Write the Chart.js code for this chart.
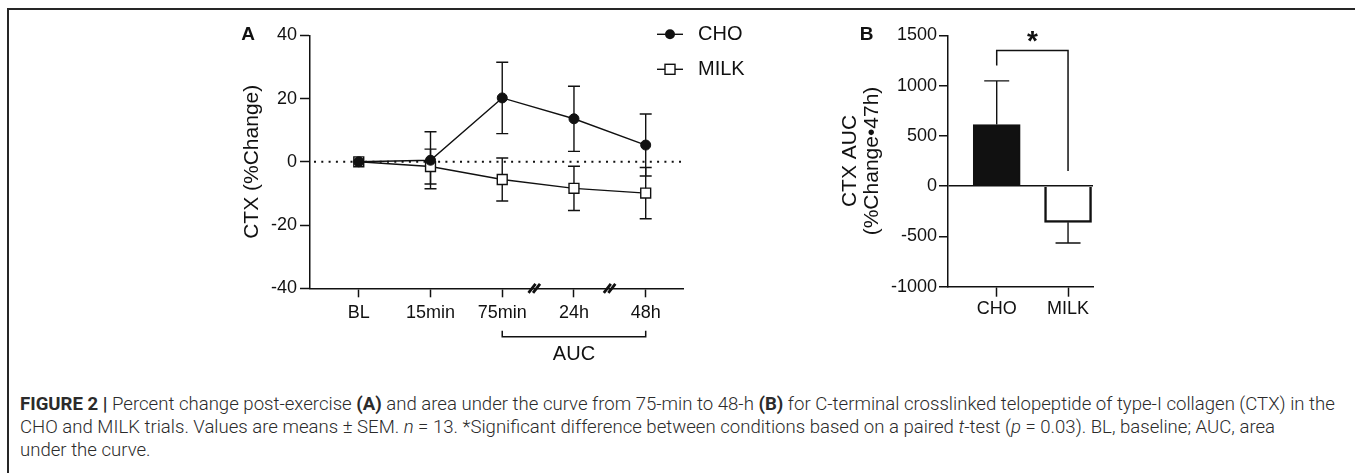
<!DOCTYPE html>
<html>
<head>
<meta charset="utf-8">
<script src="https://cdn.jsdelivr.net/npm/chart.js@4.4.1/dist/chart.umd.min.js"></script>
<style>
  body { margin:0; background:#fff; width:1355px; height:473px; overflow:hidden; position:relative; }
  .frame { position:absolute; left:7px; top:8px; width:1400px; height:500px; border-top:2px solid #262626; border-left:2px solid #262626; }
  #chartA { position:absolute; left:200px; top:10px; }
  #chartB { position:absolute; left:820px; top:10px; }
  .cap { position:absolute; left:20px; top:393px; font-family:Roboto, "Liberation Sans", sans-serif; font-weight:300; color:#2b2b2b; line-height:23px; white-space:nowrap; font-size:16px; }
  .cap b { font-weight:700; }
  .cap div { display:table; }
</style>
</head>
<body>
<div class="frame"></div>
<canvas id="chartA" width="560" height="380"></canvas>
<canvas id="chartB" width="300" height="380"></canvas>
<div class="cap" id="cap">
  <div id="line1"><b>FIGURE 2 |</b> Percent change post-exercise <b>(A)</b> and area under the curve from 75-min to 48-h <b>(B)</b> for C-terminal crosslinked telopeptide of type-I collagen (CTX) in the</div>
  <div>CHO and MILK trials. Values are means ± SEM. <i>n</i> = 13. *Significant difference between conditions based on a paired <i>t</i>-test (<i>p</i> = 0.03). BL, baseline; AUC, area</div>
  <div>under the curve.</div>
</div>
<script>
// panel A - time course
const timepoints = ["BL", "15min", "75min", "24h", "48h"];
const choMean = [0, 0.5, 20.2, 13.6, 5.3];
const choSem = [0, 9.0, 11.3, 10.3, 9.8];
const milkMean = [0, -1.5, -5.6, -8.4, -9.9];
const milkSem = [0, 5.5, 6.8, 7.0, 8.1];
const yTicksA = [-40, -20, 0, 20, 40];

// panel B - AUC
const groups = ["CHO", "MILK"];
const aucMean = [612, -360];
const aucSem = [435, 205];
const yTicksB = [-1000, -500, 0, 500, 1000, 1500];

const ink = "#111";
Chart.defaults.font.family = '"Liberation Sans", Arial, sans-serif';
Chart.defaults.color = ink;

// error bars from the scales, drawn under the markers
const errorBars = {
  id: "errorBars",
  beforeDatasetsDraw(chart) {
    const ctx = chart.ctx;
    const ys = chart.scales.y;
    chart.data.datasets.forEach((ds, di) => {
      if (!ds.sem) return;
      const meta = chart.getDatasetMeta(di);
      ctx.save();
      ctx.strokeStyle = ink;
      ctx.lineWidth = 1.4;
      meta.data.forEach((el, i) => {
        const e = ds.sem[i];
        if (!e) return;
        const v = ds.data[i].y;
        let lo = v - e, hi = v + e;
        if (ds.oneSided) { if (v >= 0) lo = v; else hi = v; }
        const x = el.x, w = ds.capHalf;
        const yHi = ys.getPixelForValue(hi), yLo = ys.getPixelForValue(lo);
        ctx.beginPath();
        ctx.moveTo(x, yHi); ctx.lineTo(x, yLo);
        if (!ds.oneSided || v >= 0) { ctx.moveTo(x - w, yHi); ctx.lineTo(x + w, yHi); }
        if (!ds.oneSided || v < 0) { ctx.moveTo(x - w, yLo); ctx.lineTo(x + w, yLo); }
        ctx.stroke();
      });
      ctx.restore();
    });
  }
};

const extrasA = {
  id: "extrasA",
  beforeDatasetsDraw(chart) {
    const {ctx, chartArea, scales} = chart;
    // dotted zero line
    const y0 = scales.y.getPixelForValue(0);
    ctx.save();
    ctx.strokeStyle = ink;
    ctx.lineWidth = 2;
    ctx.setLineDash([2, 5.3]);
    ctx.beginPath();
    ctx.moveTo(chartArea.left + 4, y0);
    ctx.lineTo(chartArea.right, y0);
    ctx.stroke();
    ctx.restore();
  },
  afterDraw(chart) {
    const {ctx, chartArea, scales} = chart;
    const xs = scales.x;
    ctx.save();
    ctx.strokeStyle = ink;
    ctx.fillStyle = ink;
    // axis breaks
    ctx.lineWidth = 2.8;
    [2.45, 3.5].forEach(v => {
      const bx = xs.getPixelForValue(v), by = chartArea.bottom;
      ctx.beginPath();
      ctx.moveTo(bx - 6, by + 4.5); ctx.lineTo(bx + 1, by - 4.5);
      ctx.moveTo(bx - 1.5, by + 4.5); ctx.lineTo(bx + 5.5, by - 4.5);
      ctx.stroke();
    });
    // AUC bracket
    ctx.lineWidth = 1.5;
    const x1 = xs.getPixelForValue(2), x2 = xs.getPixelForValue(4);
    const yb = chartArea.bottom + 48.5;
    ctx.beginPath();
    ctx.moveTo(x1, yb - 6); ctx.lineTo(x1, yb); ctx.lineTo(x2, yb); ctx.lineTo(x2, yb - 6);
    ctx.stroke();
    ctx.font = '20px "Liberation Sans", Arial, sans-serif';
    ctx.textAlign = "center";
    ctx.textBaseline = "middle";
    ctx.fillText("AUC", (x1 + x2) / 2, yb + 18);
    // panel letter
    ctx.font = 'bold 19px "Liberation Sans", Arial, sans-serif';
    ctx.fillText("A", 48, 25);
    // legend
    const lx1 = chartArea.right - 26, lx2 = chartArea.right, lm = (lx1 + lx2) / 2;
    const rows = [24.3, 59.3];
    ctx.lineWidth = 1.4;
    rows.forEach(ry => {
      ctx.beginPath(); ctx.moveTo(lx1, ry); ctx.lineTo(lx2, ry); ctx.stroke();
    });
    ctx.beginPath(); ctx.arc(lm, rows[0], 5, 0, Math.PI * 2); ctx.fill();
    ctx.fillStyle = "#fff";
    ctx.fillRect(lm - 5, rows[1] - 5, 10, 10);
    ctx.strokeRect(lm - 5, rows[1] - 5, 10, 10);
    ctx.fillStyle = ink;
    ctx.font = '20px "Liberation Sans", Arial, sans-serif';
    ctx.textAlign = "left";
    ctx.fillText("CHO", chartArea.right + 15, rows[0]);
    ctx.fillText("MILK", chartArea.right + 15, rows[1]);
    ctx.restore();
  }
};

const extrasB = {
  id: "extrasB",
  afterDraw(chart) {
    const {ctx, scales} = chart;
    const xa = scales.x.getPixelForValue(0), xb = scales.x.getPixelForValue(1);
    const yTop = scales.y.getPixelForValue(1350);
    ctx.save();
    ctx.strokeStyle = ink;
    ctx.fillStyle = ink;
    ctx.lineWidth = 1.5;
    ctx.beginPath();
    ctx.moveTo(xa, scales.y.getPixelForValue(1200));
    ctx.lineTo(xa, yTop); ctx.lineTo(xb, yTop);
    ctx.lineTo(xb, scales.y.getPixelForValue(150));
    ctx.stroke();
    ctx.font = 'bold 28px "Liberation Sans", Arial, sans-serif';
    ctx.textAlign = "center";
    ctx.textBaseline = "alphabetic";
    ctx.fillText("*", (xa + xb) / 2, yTop - 0.5);
    ctx.font = 'bold 19px "Liberation Sans", Arial, sans-serif';
    ctx.textBaseline = "middle";
    ctx.fillText("B", 46.7, 25);
    ctx.restore();
  }
};

function axisBits(tickLen) {
  return {
    grid: { drawOnChartArea: false, tickLength: tickLen, tickColor: ink, tickWidth: 1.5 },
    border: { color: ink, width: 1.5 }
  };
}

new Chart(document.getElementById("chartA"), {
  type: "line",
  data: {
    datasets: [
      {
        label: "CHO",
        data: choMean.map((v, i) => ({x: i, y: v})),
        sem: choSem, capHalf: 6,
        borderColor: ink, borderWidth: 1.4,
        pointStyle: "circle", pointRadius: 5, pointBackgroundColor: ink, pointBorderColor: ink, pointBorderWidth: 1
      },
      {
        label: "MILK",
        data: milkMean.map((v, i) => ({x: i, y: v})),
        sem: milkSem, capHalf: 6,
        borderColor: ink, borderWidth: 1.4,
        pointStyle: "rect", pointRadius: 7, pointBackgroundColor: "#fff", pointBorderColor: ink, pointBorderWidth: 1.4
      }
    ]
  },
  options: {
    responsive: false, animation: false,
    layout: { padding: { top: 25.3, right: 77, left: 0, bottom: 0 }, autoPadding: false },
    plugins: { legend: { display: false }, tooltip: { enabled: false } },
    scales: {
      x: {
        type: "linear", min: -0.68, max: 4.52,
        afterBuildTicks: s => { s.ticks = timepoints.map((_, i) => ({value: i})); },
        afterFit: s => { s.height = 101.7; },
        ...axisBits(9),
        ticks: { callback: v => timepoints[v], font: { size: 18 }, padding: 5, maxRotation: 0, autoSkip: false }
      },
      y: {
        min: -40, max: 40,
        afterBuildTicks: s => { s.ticks = yTicksA.map(v => ({value: v})); },
        afterFit: s => { s.width = 110; },
        ...axisBits(10),
        ticks: { callback: v => String(v), font: { size: 18 }, padding: 3 },
        title: { display: true, text: "CTX (%Change)", font: { size: 21 }, padding: { top: 39.4 } }
      }
    }
  },
  plugins: [errorBars, extrasA]
});

new Chart(document.getElementById("chartB"), {
  type: "bar",
  data: {
    datasets: [{
      data: aucMean.map((v, i) => ({x: i, y: v})),
      sem: aucSem, capHalf: 12.5, oneSided: true,
      backgroundColor: [ink, "#fff"], borderColor: ink, borderWidth: 2.5,
      barThickness: 47
    }]
  },
  options: {
    responsive: false, animation: false,
    layout: { padding: { top: 25.3, right: 27, left: 0, bottom: 0 }, autoPadding: false },
    plugins: { legend: { display: false }, tooltip: { enabled: false } },
    scales: {
      x: {
        type: "linear", min: -0.683, max: 1.35, offset: false,
        afterBuildTicks: s => { s.ticks = groups.map((_, i) => ({value: i})); },
        afterFit: s => { s.height = 103.3; },
        grid: { offset: false, drawOnChartArea: false, tickLength: 10, tickColor: ink, tickWidth: 1.5 },
        border: { color: ink, width: 1.5 },
        ticks: { callback: v => groups[v], font: { size: 18 }, padding: 2, maxRotation: 0, autoSkip: false }
      },
      y: {
        min: -1000, max: 1500,
        afterBuildTicks: s => { s.ticks = yTicksB.map(v => ({value: v})); },
        afterFit: s => { s.width = 128; },
        grid: { drawOnChartArea: true, color: c => c.tick && c.tick.value === 0 ? ink : "rgba(0,0,0,0)", lineWidth: 1.5, tickLength: 9, tickColor: ink, tickWidth: 1.5 },
        border: { color: ink, width: 1.5 },
        ticks: { callback: v => String(v), font: { size: 18 }, padding: 2 },
        title: { display: true, text: ["CTX AUC", "(%Change\u202247h)"], font: { size: 21, lineHeight: 1.05 }, padding: { top: 19 } }
      }
    }
  },
  plugins: [errorBars, extrasB]
});

// fit caption line 1 to its width in the figure
(function fitCaption() {
  const cap = document.getElementById("cap");
  const w = document.getElementById("line1").getBoundingClientRect().width;
  cap.style.fontSize = (16 * 1315 / w).toFixed(2) + "px";
})();
</script>
</body>
</html>
